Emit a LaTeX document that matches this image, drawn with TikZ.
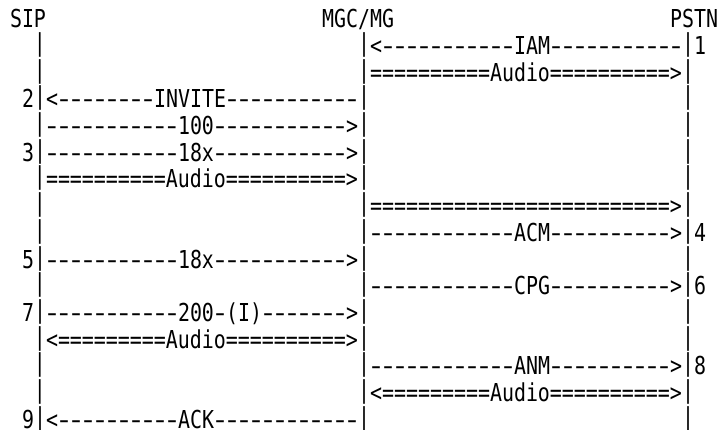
\documentclass[tikz,border=0pt]{standalone}
\usepackage{fontspec}
\usepackage{graphicx}
\newfontfamily\monofont[FakeStretch=0.807]{DejaVu Sans Mono}
\newcommand\hy{\makebox[12pt][c]{\scalebox{1.5}[1]{-}}}
\newcommand\B{\raisebox{3pt}{|}}
\newcommand\D[1]{\foreach\k in {1,...,#1}{\hy}}
\newcommand\E[1]{\foreach\k in {1,...,#1}{=}}
\tikzset{seg/.style={font=\monofont\fontsize{24.7pt}{26pt}\selectfont, inner sep=0pt, outer sep=0pt, anchor=base west, text=black}}
\begin{document}
\begin{tikzpicture}
\useasboundingbox[fill=white] (0pt,0pt) rectangle (718pt,-430pt);
\begin{scope}[shift={(10pt,-28pt)}, x=12pt, y=-26.667pt]
% row 0: headers
\node[seg] (hsip)  at (0,0)  {SIP};
\node[seg] (hmgc)  at (26,0) {MGC/MG};
\node[seg] (hpstn) at (55,0) {PSTN};
% row 1
\node[seg] (r1a) at (2,1)  {\B};
\node[seg] (r1b) at (29,1) {\B<\D{11}IAM\D{11}\B1};
% row 2
\node[seg] (r2a) at (2,2)  {\B};
\node[seg] (r2b) at (29,2) {\B\E{10}Audio\E{10}>\B};
% row 3
\node[seg] (r3a) at (1,3)  {2\B<\D{8}INVITE\D{11}\B};
\node[seg] (r3b) at (56,3) {\B};
% row 4
\node[seg] (r4a) at (2,4)  {\B\D{11}100\D{11}>\B};
\node[seg] (r4b) at (56,4) {\B};
% row 5
\node[seg] (r5a) at (1,5)  {3\B\D{11}18x\D{11}>\B};
\node[seg] (r5b) at (56,5) {\B};
% row 6
\node[seg] (r6a) at (2,6)  {\B\E{10}Audio\E{10}>\B};
\node[seg] (r6b) at (56,6) {\B};
% row 7
\node[seg] (r7a) at (2,7)  {\B};
\node[seg] (r7b) at (29,7) {\B\E{25}>\B};
% row 8
\node[seg] (r8a) at (2,8)  {\B};
\node[seg] (r8b) at (29,8) {\B\D{12}ACM\D{10}>\B4};
% row 9
\node[seg] (r9a) at (1,9)  {5\B\D{11}18x\D{11}>\B};
\node[seg] (r9b) at (56,9) {\B};
% row 10
\node[seg] (r10a) at (2,10)  {\B};
\node[seg] (r10b) at (29,10) {\B\D{12}CPG\D{10}>\B6};
% row 11
\node[seg] (r11a) at (1,11)  {7\B\D{11}200\hy(I)\D{7}>\B};
\node[seg] (r11b) at (56,11) {\B};
% row 12
\node[seg] (r12a) at (2,12)  {\B<\E{9}Audio\E{10}>\B};
\node[seg] (r12b) at (56,12) {\B};
% row 13
\node[seg] (r13a) at (2,13)  {\B};
\node[seg] (r13b) at (29,13) {\B\D{12}ANM\D{10}>\B8};
% row 14
\node[seg] (r14a) at (2,14)  {\B};
\node[seg] (r14b) at (29,14) {\B<\E{9}Audio\E{10}>\B};
% row 15
\node[seg] (r15a) at (1,15)  {9\B<\D{10}ACK\D{12}\B};
\node[seg] (r15b) at (56,15) {\B};
\end{scope}
\end{tikzpicture}
\end{document}
